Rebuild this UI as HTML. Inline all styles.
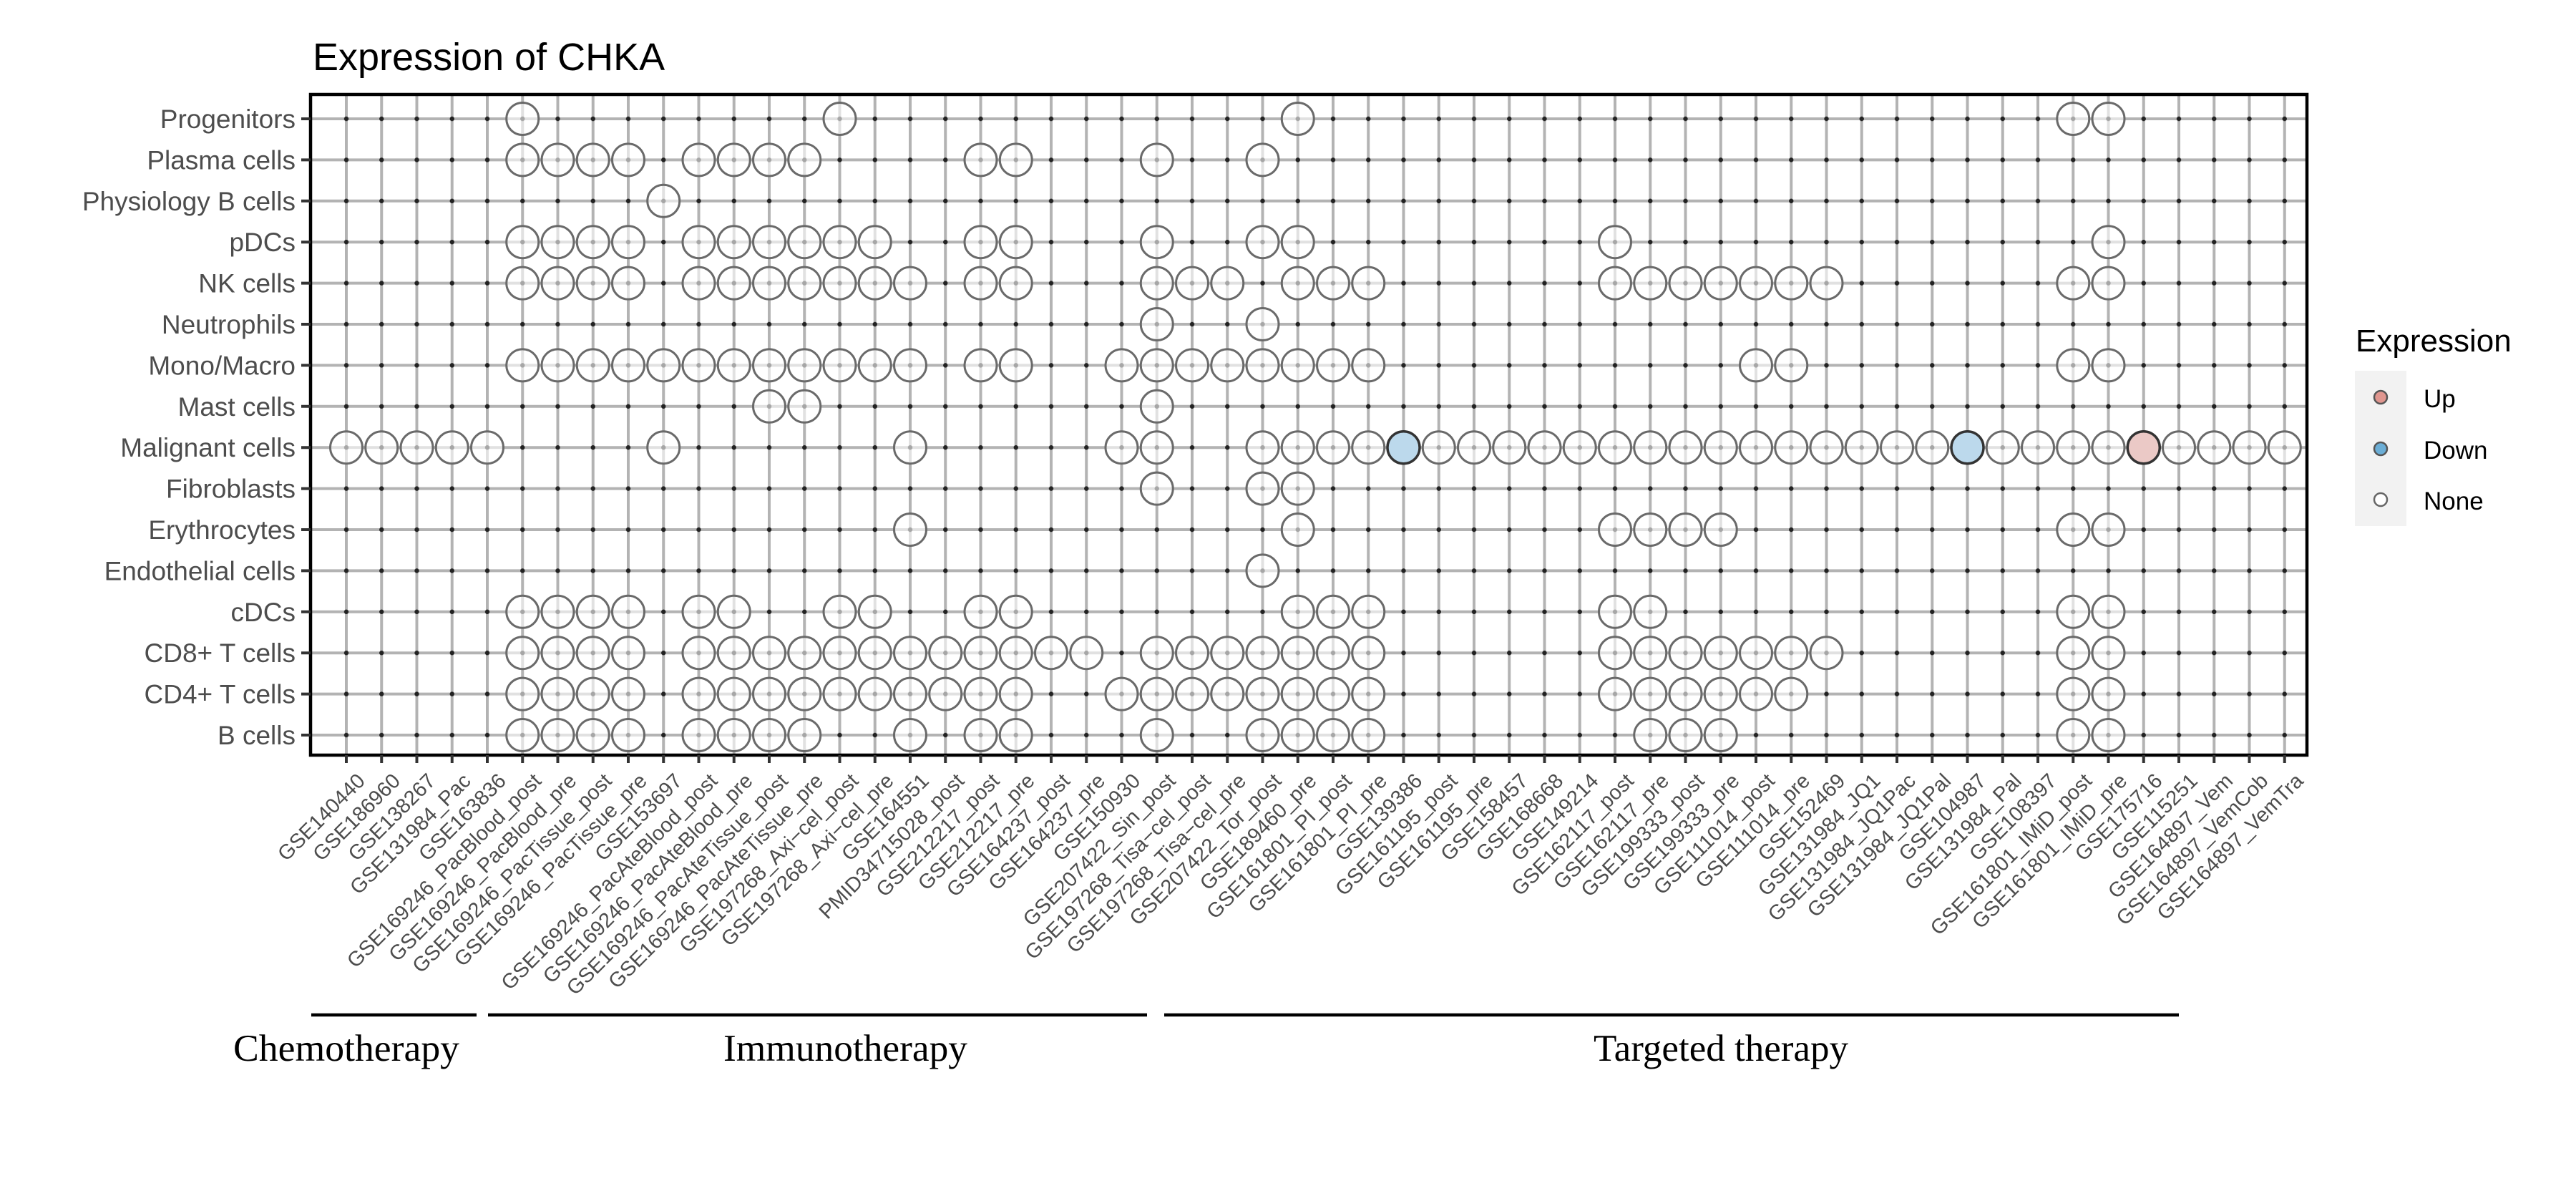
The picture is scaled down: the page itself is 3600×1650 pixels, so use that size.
<!DOCTYPE html>
<html><head><meta charset="utf-8">
<style>
html,body{margin:0;padding:0;background:#fff;}
svg{display:block;font-family:"Liberation Sans",Arial,sans-serif;}
.o{fill:#fff;fill-opacity:.6;stroke:#6a6a6a;stroke-width:3;r:22.5px;}
.dn{fill:#bcd9ec;stroke:#333;stroke-width:3.5;r:22.5px;}
.up{fill:#ebc9c6;stroke:#333;stroke-width:3.5;r:22.5px;}
.yl{font-size:37px;fill:#4d4d4d;text-anchor:end;}
.xl{font-size:29px;fill:#4d4d4d;text-anchor:end;}
.br{font-family:"Liberation Serif",serif;font-size:53px;fill:#000;}
</style></head>
<body>
<svg width="3600" height="1650" viewBox="0 0 3600 1650" xmlns="http://www.w3.org/2000/svg">
<defs>
<pattern id="d" x="459.375" y="137.3" width="49.25" height="57.4" patternUnits="userSpaceOnUse"><circle cx="24.625" cy="28.7" r="3.2" fill="#222"/></pattern>
</defs>
<rect width="3600" height="1650" fill="#fff"/>
<text x="437" y="98" font-size="54" fill="#000">Expression of CHKA</text>

<g stroke="#b3b3b3" stroke-width="4">
<path d="M484 132V1055M533.25 132V1055M582.5 132V1055M631.75 132V1055M681 132V1055M730.25 132V1055M779.5 132V1055M828.75 132V1055M878 132V1055M927.25 132V1055M976.5 132V1055M1025.75 132V1055M1075 132V1055M1124.25 132V1055M1173.5 132V1055M1222.75 132V1055M1272 132V1055M1321.25 132V1055M1370.5 132V1055M1419.75 132V1055M1469 132V1055M1518.25 132V1055M1567.5 132V1055M1616.75 132V1055M1666 132V1055M1715.25 132V1055M1764.5 132V1055M1813.75 132V1055M1863 132V1055M1912.25 132V1055M1961.5 132V1055M2010.75 132V1055M2060 132V1055M2109.25 132V1055M2158.5 132V1055M2207.75 132V1055M2257 132V1055M2306.25 132V1055M2355.5 132V1055M2404.75 132V1055M2454 132V1055M2503.25 132V1055M2552.5 132V1055M2601.75 132V1055M2651 132V1055M2700.25 132V1055M2749.5 132V1055M2798.75 132V1055M2848 132V1055M2897.25 132V1055M2946.5 132V1055M2995.75 132V1055M3045 132V1055M3094.25 132V1055M3143.5 132V1055M3192.75 132V1055"/>
<path d="M434 166H3224M434 223.4H3224M434 280.8H3224M434 338.2H3224M434 395.6H3224M434 453H3224M434 510.4H3224M434 567.8H3224M434 625.2H3224M434 682.6H3224M434 740H3224M434 797.4H3224M434 854.8H3224M434 912.2H3224M434 969.6H3224M434 1027H3224"/>
</g>
<rect x="459.375" y="137.3" width="2758" height="918" fill="url(#d)"/>

<g transform="translate(0,166)">
<circle class="o" cx="730.25" cy="0"/><circle class="o" cx="1173.5" cy="0"/><circle class="o" cx="1813.75" cy="0"/><circle class="o" cx="2897.25" cy="0"/><circle class="o" cx="2946.5" cy="0"/>
</g>
<g transform="translate(0,223.4)">
<circle class="o" cx="730.25" cy="0"/><circle class="o" cx="779.5" cy="0"/><circle class="o" cx="828.75" cy="0"/><circle class="o" cx="878" cy="0"/><circle class="o" cx="976.5" cy="0"/><circle class="o" cx="1025.75" cy="0"/><circle class="o" cx="1075" cy="0"/><circle class="o" cx="1124.25" cy="0"/><circle class="o" cx="1370.5" cy="0"/><circle class="o" cx="1419.75" cy="0"/><circle class="o" cx="1616.75" cy="0"/><circle class="o" cx="1764.5" cy="0"/>
</g>
<g transform="translate(0,280.8)">
<circle class="o" cx="927.25" cy="0"/>
</g>
<g transform="translate(0,338.2)">
<circle class="o" cx="730.25" cy="0"/><circle class="o" cx="779.5" cy="0"/><circle class="o" cx="828.75" cy="0"/><circle class="o" cx="878" cy="0"/><circle class="o" cx="976.5" cy="0"/><circle class="o" cx="1025.75" cy="0"/><circle class="o" cx="1075" cy="0"/><circle class="o" cx="1124.25" cy="0"/><circle class="o" cx="1173.5" cy="0"/><circle class="o" cx="1222.75" cy="0"/><circle class="o" cx="1370.5" cy="0"/><circle class="o" cx="1419.75" cy="0"/><circle class="o" cx="1616.75" cy="0"/><circle class="o" cx="1764.5" cy="0"/><circle class="o" cx="1813.75" cy="0"/><circle class="o" cx="2257" cy="0"/><circle class="o" cx="2946.5" cy="0"/>
</g>
<g transform="translate(0,395.6)">
<circle class="o" cx="730.25" cy="0"/><circle class="o" cx="779.5" cy="0"/><circle class="o" cx="828.75" cy="0"/><circle class="o" cx="878" cy="0"/><circle class="o" cx="976.5" cy="0"/><circle class="o" cx="1025.75" cy="0"/><circle class="o" cx="1075" cy="0"/><circle class="o" cx="1124.25" cy="0"/><circle class="o" cx="1173.5" cy="0"/><circle class="o" cx="1222.75" cy="0"/><circle class="o" cx="1272" cy="0"/><circle class="o" cx="1370.5" cy="0"/><circle class="o" cx="1419.75" cy="0"/><circle class="o" cx="1616.75" cy="0"/><circle class="o" cx="1666" cy="0"/><circle class="o" cx="1715.25" cy="0"/><circle class="o" cx="1813.75" cy="0"/><circle class="o" cx="1863" cy="0"/><circle class="o" cx="1912.25" cy="0"/><circle class="o" cx="2257" cy="0"/><circle class="o" cx="2306.25" cy="0"/><circle class="o" cx="2355.5" cy="0"/><circle class="o" cx="2404.75" cy="0"/><circle class="o" cx="2454" cy="0"/><circle class="o" cx="2503.25" cy="0"/><circle class="o" cx="2552.5" cy="0"/><circle class="o" cx="2897.25" cy="0"/><circle class="o" cx="2946.5" cy="0"/>
</g>
<g transform="translate(0,453)">
<circle class="o" cx="1616.75" cy="0"/><circle class="o" cx="1764.5" cy="0"/>
</g>
<g transform="translate(0,510.4)">
<circle class="o" cx="730.25" cy="0"/><circle class="o" cx="779.5" cy="0"/><circle class="o" cx="828.75" cy="0"/><circle class="o" cx="878" cy="0"/><circle class="o" cx="927.25" cy="0"/><circle class="o" cx="976.5" cy="0"/><circle class="o" cx="1025.75" cy="0"/><circle class="o" cx="1075" cy="0"/><circle class="o" cx="1124.25" cy="0"/><circle class="o" cx="1173.5" cy="0"/><circle class="o" cx="1222.75" cy="0"/><circle class="o" cx="1272" cy="0"/><circle class="o" cx="1370.5" cy="0"/><circle class="o" cx="1419.75" cy="0"/><circle class="o" cx="1567.5" cy="0"/><circle class="o" cx="1616.75" cy="0"/><circle class="o" cx="1666" cy="0"/><circle class="o" cx="1715.25" cy="0"/><circle class="o" cx="1764.5" cy="0"/><circle class="o" cx="1813.75" cy="0"/><circle class="o" cx="1863" cy="0"/><circle class="o" cx="1912.25" cy="0"/><circle class="o" cx="2454" cy="0"/><circle class="o" cx="2503.25" cy="0"/><circle class="o" cx="2897.25" cy="0"/><circle class="o" cx="2946.5" cy="0"/>
</g>
<g transform="translate(0,567.8)">
<circle class="o" cx="1075" cy="0"/><circle class="o" cx="1124.25" cy="0"/><circle class="o" cx="1616.75" cy="0"/>
</g>
<g transform="translate(0,625.2)">
<circle class="o" cx="484" cy="0"/><circle class="o" cx="533.25" cy="0"/><circle class="o" cx="582.5" cy="0"/><circle class="o" cx="631.75" cy="0"/><circle class="o" cx="681" cy="0"/><circle class="o" cx="927.25" cy="0"/><circle class="o" cx="1272" cy="0"/><circle class="o" cx="1567.5" cy="0"/><circle class="o" cx="1616.75" cy="0"/><circle class="o" cx="1764.5" cy="0"/><circle class="o" cx="1813.75" cy="0"/><circle class="o" cx="1863" cy="0"/><circle class="o" cx="1912.25" cy="0"/><circle class="dn" cx="1961.5" cy="0"/><circle class="o" cx="2010.75" cy="0"/><circle class="o" cx="2060" cy="0"/><circle class="o" cx="2109.25" cy="0"/><circle class="o" cx="2158.5" cy="0"/><circle class="o" cx="2207.75" cy="0"/><circle class="o" cx="2257" cy="0"/><circle class="o" cx="2306.25" cy="0"/><circle class="o" cx="2355.5" cy="0"/><circle class="o" cx="2404.75" cy="0"/><circle class="o" cx="2454" cy="0"/><circle class="o" cx="2503.25" cy="0"/><circle class="o" cx="2552.5" cy="0"/><circle class="o" cx="2601.75" cy="0"/><circle class="o" cx="2651" cy="0"/><circle class="o" cx="2700.25" cy="0"/><circle class="dn" cx="2749.5" cy="0"/><circle class="o" cx="2798.75" cy="0"/><circle class="o" cx="2848" cy="0"/><circle class="o" cx="2897.25" cy="0"/><circle class="o" cx="2946.5" cy="0"/><circle class="up" cx="2995.75" cy="0"/><circle class="o" cx="3045" cy="0"/><circle class="o" cx="3094.25" cy="0"/><circle class="o" cx="3143.5" cy="0"/><circle class="o" cx="3192.75" cy="0"/>
</g>
<g transform="translate(0,682.6)">
<circle class="o" cx="1616.75" cy="0"/><circle class="o" cx="1764.5" cy="0"/><circle class="o" cx="1813.75" cy="0"/>
</g>
<g transform="translate(0,740)">
<circle class="o" cx="1272" cy="0"/><circle class="o" cx="1813.75" cy="0"/><circle class="o" cx="2257" cy="0"/><circle class="o" cx="2306.25" cy="0"/><circle class="o" cx="2355.5" cy="0"/><circle class="o" cx="2404.75" cy="0"/><circle class="o" cx="2897.25" cy="0"/><circle class="o" cx="2946.5" cy="0"/>
</g>
<g transform="translate(0,797.4)">
<circle class="o" cx="1764.5" cy="0"/>
</g>
<g transform="translate(0,854.8)">
<circle class="o" cx="730.25" cy="0"/><circle class="o" cx="779.5" cy="0"/><circle class="o" cx="828.75" cy="0"/><circle class="o" cx="878" cy="0"/><circle class="o" cx="976.5" cy="0"/><circle class="o" cx="1025.75" cy="0"/><circle class="o" cx="1173.5" cy="0"/><circle class="o" cx="1222.75" cy="0"/><circle class="o" cx="1370.5" cy="0"/><circle class="o" cx="1419.75" cy="0"/><circle class="o" cx="1813.75" cy="0"/><circle class="o" cx="1863" cy="0"/><circle class="o" cx="1912.25" cy="0"/><circle class="o" cx="2257" cy="0"/><circle class="o" cx="2306.25" cy="0"/><circle class="o" cx="2897.25" cy="0"/><circle class="o" cx="2946.5" cy="0"/>
</g>
<g transform="translate(0,912.2)">
<circle class="o" cx="730.25" cy="0"/><circle class="o" cx="779.5" cy="0"/><circle class="o" cx="828.75" cy="0"/><circle class="o" cx="878" cy="0"/><circle class="o" cx="976.5" cy="0"/><circle class="o" cx="1025.75" cy="0"/><circle class="o" cx="1075" cy="0"/><circle class="o" cx="1124.25" cy="0"/><circle class="o" cx="1173.5" cy="0"/><circle class="o" cx="1222.75" cy="0"/><circle class="o" cx="1272" cy="0"/><circle class="o" cx="1321.25" cy="0"/><circle class="o" cx="1370.5" cy="0"/><circle class="o" cx="1419.75" cy="0"/><circle class="o" cx="1469" cy="0"/><circle class="o" cx="1518.25" cy="0"/><circle class="o" cx="1616.75" cy="0"/><circle class="o" cx="1666" cy="0"/><circle class="o" cx="1715.25" cy="0"/><circle class="o" cx="1764.5" cy="0"/><circle class="o" cx="1813.75" cy="0"/><circle class="o" cx="1863" cy="0"/><circle class="o" cx="1912.25" cy="0"/><circle class="o" cx="2257" cy="0"/><circle class="o" cx="2306.25" cy="0"/><circle class="o" cx="2355.5" cy="0"/><circle class="o" cx="2404.75" cy="0"/><circle class="o" cx="2454" cy="0"/><circle class="o" cx="2503.25" cy="0"/><circle class="o" cx="2552.5" cy="0"/><circle class="o" cx="2897.25" cy="0"/><circle class="o" cx="2946.5" cy="0"/>
</g>
<g transform="translate(0,969.6)">
<circle class="o" cx="730.25" cy="0"/><circle class="o" cx="779.5" cy="0"/><circle class="o" cx="828.75" cy="0"/><circle class="o" cx="878" cy="0"/><circle class="o" cx="976.5" cy="0"/><circle class="o" cx="1025.75" cy="0"/><circle class="o" cx="1075" cy="0"/><circle class="o" cx="1124.25" cy="0"/><circle class="o" cx="1173.5" cy="0"/><circle class="o" cx="1222.75" cy="0"/><circle class="o" cx="1272" cy="0"/><circle class="o" cx="1321.25" cy="0"/><circle class="o" cx="1370.5" cy="0"/><circle class="o" cx="1419.75" cy="0"/><circle class="o" cx="1567.5" cy="0"/><circle class="o" cx="1616.75" cy="0"/><circle class="o" cx="1666" cy="0"/><circle class="o" cx="1715.25" cy="0"/><circle class="o" cx="1764.5" cy="0"/><circle class="o" cx="1813.75" cy="0"/><circle class="o" cx="1863" cy="0"/><circle class="o" cx="1912.25" cy="0"/><circle class="o" cx="2257" cy="0"/><circle class="o" cx="2306.25" cy="0"/><circle class="o" cx="2355.5" cy="0"/><circle class="o" cx="2404.75" cy="0"/><circle class="o" cx="2454" cy="0"/><circle class="o" cx="2503.25" cy="0"/><circle class="o" cx="2897.25" cy="0"/><circle class="o" cx="2946.5" cy="0"/>
</g>
<g transform="translate(0,1027)">
<circle class="o" cx="730.25" cy="0"/><circle class="o" cx="779.5" cy="0"/><circle class="o" cx="828.75" cy="0"/><circle class="o" cx="878" cy="0"/><circle class="o" cx="976.5" cy="0"/><circle class="o" cx="1025.75" cy="0"/><circle class="o" cx="1075" cy="0"/><circle class="o" cx="1124.25" cy="0"/><circle class="o" cx="1272" cy="0"/><circle class="o" cx="1370.5" cy="0"/><circle class="o" cx="1419.75" cy="0"/><circle class="o" cx="1616.75" cy="0"/><circle class="o" cx="1764.5" cy="0"/><circle class="o" cx="1813.75" cy="0"/><circle class="o" cx="1863" cy="0"/><circle class="o" cx="1912.25" cy="0"/><circle class="o" cx="2306.25" cy="0"/><circle class="o" cx="2355.5" cy="0"/><circle class="o" cx="2404.75" cy="0"/><circle class="o" cx="2897.25" cy="0"/><circle class="o" cx="2946.5" cy="0"/>
</g>

<rect x="434" y="132" width="2790" height="923" fill="none" stroke="#000" stroke-width="4.5"/>

<g stroke="#333" stroke-width="4">
<path d="M421 166H434M421 223.4H434M421 280.8H434M421 338.2H434M421 395.6H434M421 453H434M421 510.4H434M421 567.8H434M421 625.2H434M421 682.6H434M421 740H434M421 797.4H434M421 854.8H434M421 912.2H434M421 969.6H434M421 1027H434"/>
<path d="M484 1055V1066M533.25 1055V1066M582.5 1055V1066M631.75 1055V1066M681 1055V1066M730.25 1055V1066M779.5 1055V1066M828.75 1055V1066M878 1055V1066M927.25 1055V1066M976.5 1055V1066M1025.75 1055V1066M1075 1055V1066M1124.25 1055V1066M1173.5 1055V1066M1222.75 1055V1066M1272 1055V1066M1321.25 1055V1066M1370.5 1055V1066M1419.75 1055V1066M1469 1055V1066M1518.25 1055V1066M1567.5 1055V1066M1616.75 1055V1066M1666 1055V1066M1715.25 1055V1066M1764.5 1055V1066M1813.75 1055V1066M1863 1055V1066M1912.25 1055V1066M1961.5 1055V1066M2010.75 1055V1066M2060 1055V1066M2109.25 1055V1066M2158.5 1055V1066M2207.75 1055V1066M2257 1055V1066M2306.25 1055V1066M2355.5 1055V1066M2404.75 1055V1066M2454 1055V1066M2503.25 1055V1066M2552.5 1055V1066M2601.75 1055V1066M2651 1055V1066M2700.25 1055V1066M2749.5 1055V1066M2798.75 1055V1066M2848 1055V1066M2897.25 1055V1066M2946.5 1055V1066M2995.75 1055V1066M3045 1055V1066M3094.25 1055V1066M3143.5 1055V1066M3192.75 1055V1066"/>
</g>

<g>
<text class="yl" x="413" y="179">Progenitors</text>
<text class="yl" x="413" y="236.4">Plasma cells</text>
<text class="yl" x="413" y="293.8">Physiology B cells</text>
<text class="yl" x="413" y="351.2">pDCs</text>
<text class="yl" x="413" y="408.6">NK cells</text>
<text class="yl" x="413" y="466">Neutrophils</text>
<text class="yl" x="413" y="523.4">Mono/Macro</text>
<text class="yl" x="413" y="580.8">Mast cells</text>
<text class="yl" x="413" y="638.2">Malignant cells</text>
<text class="yl" x="413" y="695.6">Fibroblasts</text>
<text class="yl" x="413" y="753">Erythrocytes</text>
<text class="yl" x="413" y="810.4">Endothelial cells</text>
<text class="yl" x="413" y="867.8">cDCs</text>
<text class="yl" x="413" y="925.2">CD8+ T cells</text>
<text class="yl" x="413" y="982.6">CD4+ T cells</text>
<text class="yl" x="413" y="1040">B cells</text>
</g>

<g>
<text class="xl" dy="0.72em" transform="translate(497,1078) rotate(-45)">GSE140440</text>
<text class="xl" dy="0.72em" transform="translate(546.25,1078) rotate(-45)">GSE186960</text>
<text class="xl" dy="0.72em" transform="translate(595.5,1078) rotate(-45)">GSE138267</text>
<text class="xl" dy="0.72em" transform="translate(644.75,1078) rotate(-45)">GSE131984_Pac</text>
<text class="xl" dy="0.72em" transform="translate(694,1078) rotate(-45)">GSE163836</text>
<text class="xl" dy="0.72em" transform="translate(743.25,1078) rotate(-45)">GSE169246_PacBlood_post</text>
<text class="xl" dy="0.72em" transform="translate(792.5,1078) rotate(-45)">GSE169246_PacBlood_pre</text>
<text class="xl" dy="0.72em" transform="translate(841.75,1078) rotate(-45)">GSE169246_PacTissue_post</text>
<text class="xl" dy="0.72em" transform="translate(891,1078) rotate(-45)">GSE169246_PacTissue_pre</text>
<text class="xl" dy="0.72em" transform="translate(940.25,1078) rotate(-45)">GSE153697</text>
<text class="xl" dy="0.72em" transform="translate(989.5,1078) rotate(-45)">GSE169246_PacAteBlood_post</text>
<text class="xl" dy="0.72em" transform="translate(1038.75,1078) rotate(-45)">GSE169246_PacAteBlood_pre</text>
<text class="xl" dy="0.72em" transform="translate(1088,1078) rotate(-45)">GSE169246_PacAteTissue_post</text>
<text class="xl" dy="0.72em" transform="translate(1137.25,1078) rotate(-45)">GSE169246_PacAteTissue_pre</text>
<text class="xl" dy="0.72em" transform="translate(1186.5,1078) rotate(-45)">GSE197268_Axi−cel_post</text>
<text class="xl" dy="0.72em" transform="translate(1235.75,1078) rotate(-45)">GSE197268_Axi−cel_pre</text>
<text class="xl" dy="0.72em" transform="translate(1285,1078) rotate(-45)">GSE164551</text>
<text class="xl" dy="0.72em" transform="translate(1334.25,1078) rotate(-45)">PMID34715028_post</text>
<text class="xl" dy="0.72em" transform="translate(1383.5,1078) rotate(-45)">GSE212217_post</text>
<text class="xl" dy="0.72em" transform="translate(1432.75,1078) rotate(-45)">GSE212217_pre</text>
<text class="xl" dy="0.72em" transform="translate(1482,1078) rotate(-45)">GSE164237_post</text>
<text class="xl" dy="0.72em" transform="translate(1531.25,1078) rotate(-45)">GSE164237_pre</text>
<text class="xl" dy="0.72em" transform="translate(1580.5,1078) rotate(-45)">GSE150930</text>
<text class="xl" dy="0.72em" transform="translate(1629.75,1078) rotate(-45)">GSE207422_Sin_post</text>
<text class="xl" dy="0.72em" transform="translate(1679,1078) rotate(-45)">GSE197268_Tisa−cel_post</text>
<text class="xl" dy="0.72em" transform="translate(1728.25,1078) rotate(-45)">GSE197268_Tisa−cel_pre</text>
<text class="xl" dy="0.72em" transform="translate(1777.5,1078) rotate(-45)">GSE207422_Tor_post</text>
<text class="xl" dy="0.72em" transform="translate(1826.75,1078) rotate(-45)">GSE189460_pre</text>
<text class="xl" dy="0.72em" transform="translate(1876,1078) rotate(-45)">GSE161801_PI_post</text>
<text class="xl" dy="0.72em" transform="translate(1925.25,1078) rotate(-45)">GSE161801_PI_pre</text>
<text class="xl" dy="0.72em" transform="translate(1974.5,1078) rotate(-45)">GSE139386</text>
<text class="xl" dy="0.72em" transform="translate(2023.75,1078) rotate(-45)">GSE161195_post</text>
<text class="xl" dy="0.72em" transform="translate(2073,1078) rotate(-45)">GSE161195_pre</text>
<text class="xl" dy="0.72em" transform="translate(2122.25,1078) rotate(-45)">GSE158457</text>
<text class="xl" dy="0.72em" transform="translate(2171.5,1078) rotate(-45)">GSE168668</text>
<text class="xl" dy="0.72em" transform="translate(2220.75,1078) rotate(-45)">GSE149214</text>
<text class="xl" dy="0.72em" transform="translate(2270,1078) rotate(-45)">GSE162117_post</text>
<text class="xl" dy="0.72em" transform="translate(2319.25,1078) rotate(-45)">GSE162117_pre</text>
<text class="xl" dy="0.72em" transform="translate(2368.5,1078) rotate(-45)">GSE199333_post</text>
<text class="xl" dy="0.72em" transform="translate(2417.75,1078) rotate(-45)">GSE199333_pre</text>
<text class="xl" dy="0.72em" transform="translate(2467,1078) rotate(-45)">GSE111014_post</text>
<text class="xl" dy="0.72em" transform="translate(2516.25,1078) rotate(-45)">GSE111014_pre</text>
<text class="xl" dy="0.72em" transform="translate(2565.5,1078) rotate(-45)">GSE152469</text>
<text class="xl" dy="0.72em" transform="translate(2614.75,1078) rotate(-45)">GSE131984_JQ1</text>
<text class="xl" dy="0.72em" transform="translate(2664,1078) rotate(-45)">GSE131984_JQ1Pac</text>
<text class="xl" dy="0.72em" transform="translate(2713.25,1078) rotate(-45)">GSE131984_JQ1Pal</text>
<text class="xl" dy="0.72em" transform="translate(2762.5,1078) rotate(-45)">GSE104987</text>
<text class="xl" dy="0.72em" transform="translate(2811.75,1078) rotate(-45)">GSE131984_Pal</text>
<text class="xl" dy="0.72em" transform="translate(2861,1078) rotate(-45)">GSE108397</text>
<text class="xl" dy="0.72em" transform="translate(2910.25,1078) rotate(-45)">GSE161801_IMiD_post</text>
<text class="xl" dy="0.72em" transform="translate(2959.5,1078) rotate(-45)">GSE161801_IMiD_pre</text>
<text class="xl" dy="0.72em" transform="translate(3008.75,1078) rotate(-45)">GSE175716</text>
<text class="xl" dy="0.72em" transform="translate(3058,1078) rotate(-45)">GSE115251</text>
<text class="xl" dy="0.72em" transform="translate(3107.25,1078) rotate(-45)">GSE164897_Vem</text>
<text class="xl" dy="0.72em" transform="translate(3156.5,1078) rotate(-45)">GSE164897_VemCob</text>
<text class="xl" dy="0.72em" transform="translate(3205.75,1078) rotate(-45)">GSE164897_VemTra</text>
</g>

<g stroke="#000" stroke-width="4.5">
<path d="M435 1418H666M682 1418H1603M1627 1418H3045"/>
</g>
<text class="br" x="326" y="1482" textLength="316" lengthAdjust="spacingAndGlyphs">Chemotherapy</text>
<text class="br" x="1011" y="1482" textLength="341" lengthAdjust="spacingAndGlyphs">Immunotherapy</text>
<text class="br" x="2227" y="1482" textLength="356" lengthAdjust="spacingAndGlyphs">Targeted therapy</text>

<text x="3292" y="491" font-size="44" fill="#000">Expression</text>
<rect x="3291" y="518" width="72" height="217" fill="#f2f2f2"/>
<circle cx="3327" cy="555" r="9" fill="#e0968f" stroke="#555" stroke-width="2.5"/>
<circle cx="3327" cy="627" r="9" fill="#6baed6" stroke="#555" stroke-width="2.5"/>
<circle cx="3327" cy="698" r="9" fill="#fff" stroke="#666" stroke-width="2.5"/>
<text x="3387" y="569" font-size="35" fill="#000">Up</text>
<text x="3387" y="641" font-size="35" fill="#000">Down</text>
<text x="3387" y="712" font-size="35" fill="#000">None</text>
</svg>
</body></html>
